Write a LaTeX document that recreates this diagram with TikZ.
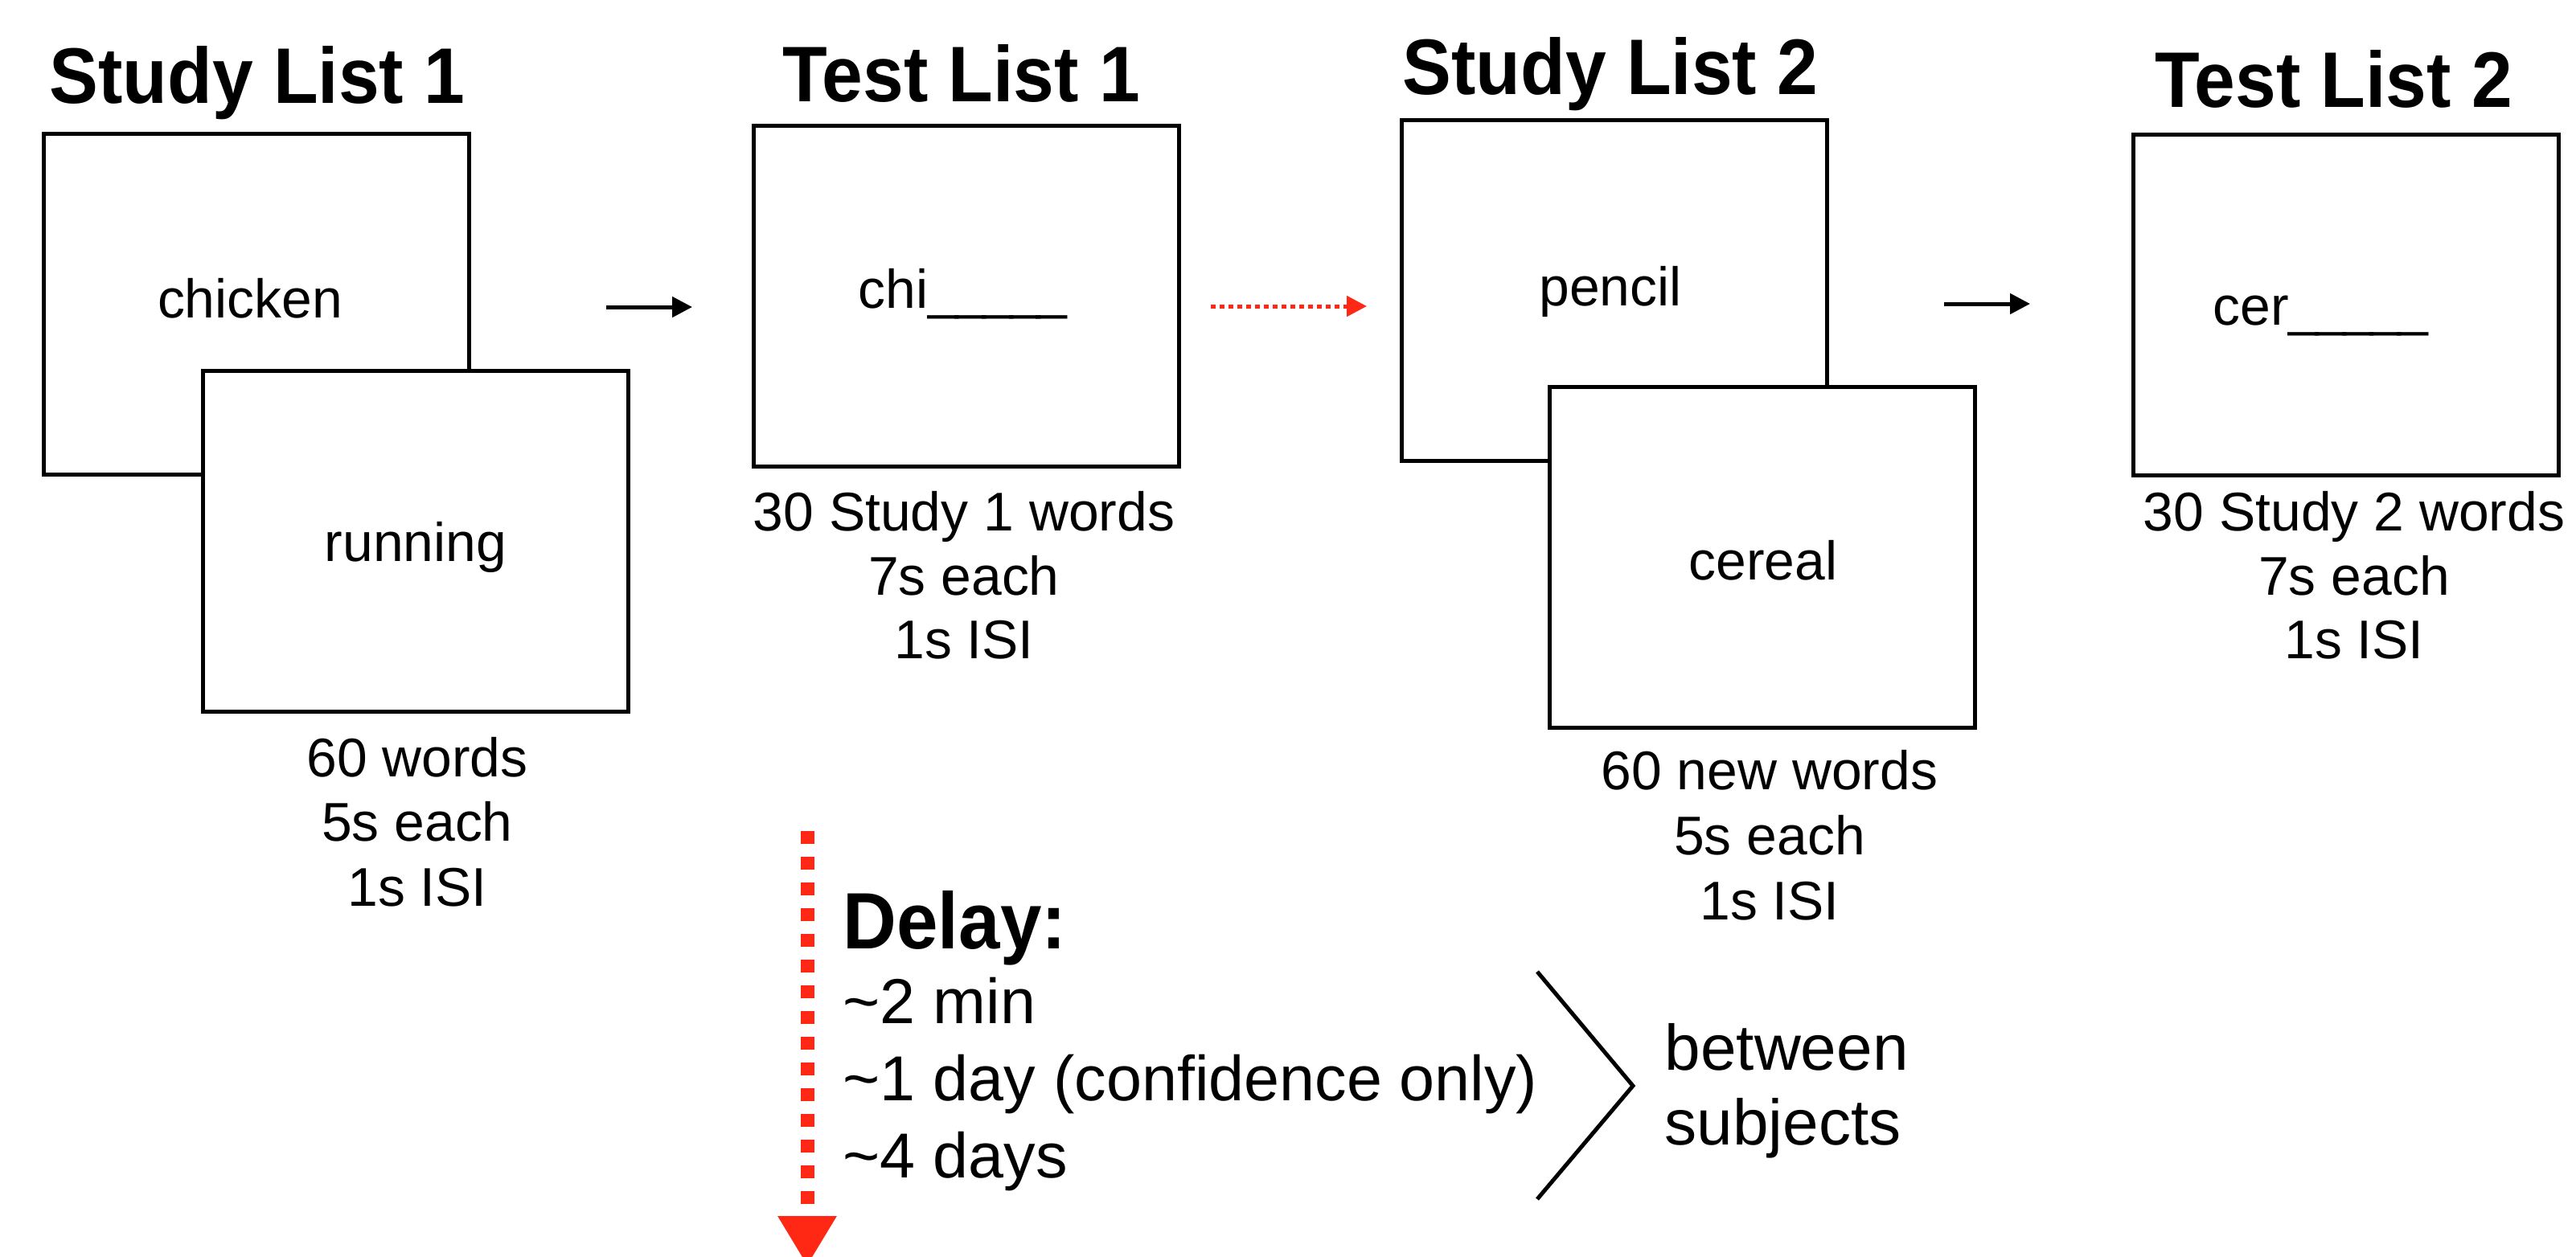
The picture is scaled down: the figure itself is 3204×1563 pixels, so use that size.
\documentclass[tikz,border=0pt]{standalone}
\usepackage{fontspec}
\setmainfont{Liberation Sans}
\newfontfamily\headfont[FakeStretch=0.93]{Liberation Sans}
\usetikzlibrary{arrows.meta}
\definecolor{myred}{RGB}{255,40,20}
\newcommand{\blankline}{\_\kern-1.1pt\_\kern-1.1pt\_\kern-1.1pt\_\kern-1.1pt\_}
\tikzset{
  framebox/.style={draw, line width=0.5mm, fill=white, minimum width=52.9mm, minimum height=42.4mm, inner sep=0pt},
  headtxt/.style={anchor=base, inner sep=0pt, font=\headfont\bfseries\fontsize{27.9pt}{33pt}\selectfont},
  bodytxt/.style={anchor=base, inner sep=0pt, font=\fontsize{19.3pt}{23pt}\selectfont},
  delaytxt/.style={anchor=base west, inner sep=0pt, font=\fontsize{22.5pt}{26pt}\selectfont},
  blackarrow/.style={line width=0.5mm, -{Triangle[length=2.5mm,width=2.5mm]}},
  redarrow/.style={myred, line width=0.5mm, dash pattern=on 0.55mm off 0.55mm, -{Triangle[length=2.5mm,width=2.5mm]}},
  bigredarrow/.style={myred, line width=1.7mm, dash pattern=on 1.6mm off 1.6mm, -{Triangle[length=6.2mm,width=6.9mm]}},
  bracketline/.style={line width=0.5mm}
}
\begin{document}
\begin{tikzpicture}[x=0.1mm, y=-0.1mm]
\useasboundingbox (0,0) rectangle (3204,1563);

% headings
\node[headtxt] (h1) at (320,128) {Study List 1};
\node[headtxt] (h2) at (1196,126) {Test List 1};
\node[headtxt] (h3) at (2003,117) {Study List 2};
\node[headtxt] (h4) at (2903,133) {Test List 2};

% Study list 1
\node[framebox] (s1a) at (318.5,378) {};
\node[bodytxt] (w1) at (311,395) {chicken};
\node[framebox] (s1b) at (516.5,673) {};
\node[bodytxt] (w2) at (517,698) {running};
\node[bodytxt] (s1l1) at (519,966) {60 words};
\node[bodytxt] (s1l2) at (519,1046) {5s each};
\node[bodytxt] (s1l3) at (519,1127) {1s ISI};

% Test list 1
\node[framebox] (t1) at (1201.5,368.5) {};
\node[bodytxt, anchor=base west] (w3) at (1067,383) {chi\blankline};
\node[bodytxt] (t1l1) at (1199,660) {30 Study 1 words};
\node[bodytxt] (t1l2) at (1199,740) {7s each};
\node[bodytxt] (t1l3) at (1199,819) {1s ISI};

% Study list 2
\node[framebox] (s2a) at (2007.5,361.5) {};
\node[bodytxt] (w4) at (2003,380) {pencil};
\node[framebox] (s2b) at (2191.5,693.5) {};
\node[bodytxt] (w5) at (2193,721) {cereal};
\node[bodytxt] (s2l1) at (2201,982) {60 new words};
\node[bodytxt] (s2l2) at (2201,1063) {5s each};
\node[bodytxt] (s2l3) at (2201,1144) {1s ISI};

% Test list 2
\node[framebox] (t2) at (2918,379) {};
\node[bodytxt, anchor=base west] (w6) at (2752,404) {cer\blankline};
\node[bodytxt] (t2l1) at (2928,660) {30 Study 2 words};
\node[bodytxt] (t2l2) at (2928,740) {7s each};
\node[bodytxt] (t2l3) at (2928,819) {1s ISI};

% arrows between phases
\coordinate (a1s) at (754,382);
\coordinate (a1e) at (861,382);
\draw[blackarrow] (a1s) -- (a1e);
\coordinate (a2s) at (1506,381);
\coordinate (a2e) at (1700,381);
\draw[redarrow] (a2s) -- (a2e);
\coordinate (a3s) at (2418,378);
\coordinate (a3e) at (2525,378);
\draw[blackarrow] (a3s) -- (a3e);

% delay arrow
\coordinate (d1s) at (1004,1034);
\coordinate (d1e) at (1004,1575);
\draw[bigredarrow] (d1s) -- (d1e);

% delay text
\node[delaytxt, anchor=base west, font=\headfont\bfseries\fontsize{28.3pt}{33pt}\selectfont] (dl) at (1048,1180) {Delay:};
\node[delaytxt] (dl1) at (1048,1273) {\textasciitilde2 min};
\node[delaytxt] (dl2) at (1048,1369) {\textasciitilde1 day (confidence only)};
\node[delaytxt] (dl3) at (1048,1465) {\textasciitilde4 days};

% bracket
\coordinate (b1) at (1912,1209);
\coordinate (b2) at (2031,1351);
\coordinate (b3) at (1912,1492);
\draw[bracketline] (b1) -- (b2) -- (b3);
\node[delaytxt, font=\fontsize{22.8pt}{27pt}\selectfont] (bw1) at (2070,1331) {between};
\node[delaytxt, font=\fontsize{22.8pt}{27pt}\selectfont] (bw2) at (2070,1424) {subjects};
\end{tikzpicture}
\end{document}
